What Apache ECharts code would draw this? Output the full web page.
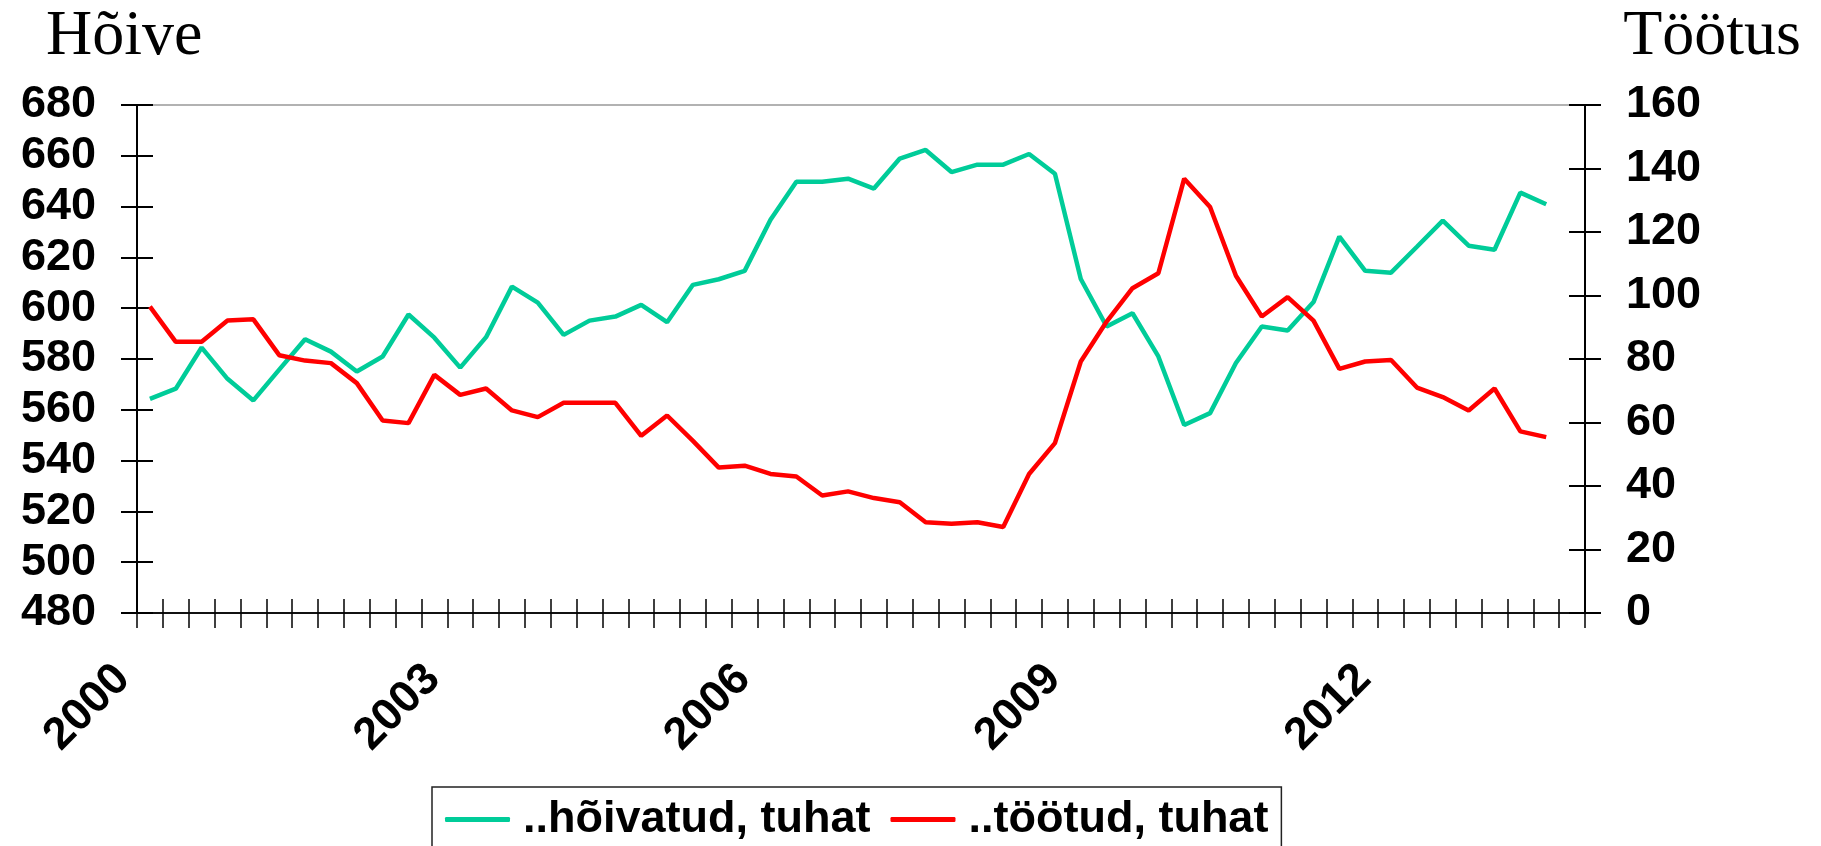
<!DOCTYPE html>
<html>
<head>
<meta charset="utf-8">
<script src="https://cdn.jsdelivr.net/npm/echarts@6/dist/echarts.min.js"></script>
<style>
html,body{margin:0;padding:0;background:#fff;}
#chart{width:1821px;height:846px;}
</style>
</head>
<body>
<div id="chart"></div>
<script>
// Quarterly categories 2000Q1 .. 2013Q4
const categories = [];
for (let y = 2000; y <= 2013; y++) for (let q = 1; q <= 4; q++) categories.push(y + 'Q' + q);

// Tick labels shown at quarter boundaries (every 3 years)
const yearLabels = ['2000', '2003', '2006', '2009', '2012'];

// ..hõivatud, tuhat (left axis)
const employed = [564.3, 568.3, 584.5, 572.2, 563.7, 575.8, 587.8, 582.9, 575.1, 581.0,
  597.5, 588.4, 576.6, 588.6, 608.5, 602.2, 589.5, 595.1, 596.7, 601.3,
  594.5, 609.2, 611.4, 614.7, 634.8, 649.8, 649.8, 651.0, 647.1, 658.9,
  662.3, 653.6, 656.5, 656.5, 660.7, 652.9, 611.5, 592.8, 598.0, 581.0,
  554.0, 558.7, 578.4, 592.8, 591.2, 602.4, 628.2, 614.7, 614.0, 624.2,
  634.5, 624.6, 623.0, 645.5, 640.9, null];

// ..töötud, tuhat (right axis)
const unemployed = [96.5, 85.4, 85.4, 92.1, 92.5, 81.2, 79.5, 78.7, 72.4, 60.6,
  59.8, 75.0, 68.7, 70.7, 63.8, 61.7, 66.2, 66.2, 66.2, 55.8,
  62.2, 54.2, 45.8, 46.4, 43.8, 43.0, 37.0, 38.3, 36.2, 34.9,
  28.6, 28.1, 28.6, 27.1, 43.8, 53.5, 79.2, 91.8, 102.3, 107.0,
  136.8, 127.9, 106.2, 93.4, 99.5, 92.1, 76.9, 79.2, 79.7, 71.0,
  68.0, 63.8, 70.7, 57.2, 55.4, null];

// boundary labels: one per quarter boundary (categories.length + 1)
const boundaryLabels = [];
for (let i = 0; i <= categories.length; i++) {
  boundaryLabels.push(i % 12 === 0 && yearLabels[i / 12] ? yearLabels[i / 12] : '');
}

const FONT = '"Liberation Sans", Arial, sans-serif';
const labelStyle = { fontFamily: FONT, fontWeight: 'bold', fontSize: 45, color: '#000' };

const chart = echarts.init(document.getElementById('chart'), null, { renderer: 'canvas' });
chart.setOption({
  animation: false,
  backgroundColor: '#fff',
  title: [
    { text: 'Hõive', left: 46, top: 5, padding: 0,
      textStyle: { fontFamily: '"Liberation Serif", "Times New Roman", serif', fontWeight: 'normal', fontSize: 64, color: '#000' } },
    { text: 'Töötus', right: 20, top: 5, padding: 0,
      textStyle: { fontFamily: '"Liberation Serif", "Times New Roman", serif', fontWeight: 'normal', fontSize: 64, color: '#000' } }
  ],
  grid: { left: 137, top: 105, width: 1448, height: 508, show: true, borderColor: '#999', borderWidth: 1.5, backgroundColor: 'transparent' },
  legend: {
    left: 432, top: 787,
    padding: [10, 13, 40, 13],
    itemGap: 20, itemWidth: 65, itemHeight: 5,
    icon: 'roundRect',
    borderColor: '#222', borderWidth: 1.5,
    textStyle: Object.assign({}, labelStyle, { padding: [0, 0, 0, 8] }),
    data: ['..hõivatud, tuhat', '..töötud, tuhat']
  },
  xAxis: [
    { type: 'category', data: categories, boundaryGap: true, position: 'bottom',
      axisLine: { show: true, lineStyle: { color: '#111', width: 2 } },
      axisTick: { show: true, inside: true, length: 14, interval: 0, lineStyle: { color: '#000', width: 1.5 } },
      axisLabel: { show: false }, splitLine: { show: false } },
    { type: 'category', data: boundaryLabels, boundaryGap: false, position: 'bottom', gridIndex: 0,
      axisLine: { show: false },
      axisTick: { show: true, inside: false, length: 15, interval: 0, lineStyle: { color: '#000', width: 1.5 } },
      axisLabel: Object.assign({ show: true, interval: 0, rotate: 45, margin: 45, padding: [0, 20, 0, 0] }, labelStyle),
      splitLine: { show: false } }
  ],
  yAxis: [
    { type: 'value', position: 'left', min: 480, max: 680, interval: 20,
      axisLine: { show: true, lineStyle: { color: '#000', width: 2 } },
      axisTick: { show: true, inside: false, length: 16, lineStyle: { color: '#000', width: 2 } },
      axisLabel: Object.assign({ margin: 41 }, labelStyle), splitLine: { show: false } },
    { type: 'value', position: 'left', min: 480, max: 680, interval: 20,
      axisLine: { show: false },
      axisTick: { show: true, inside: true, length: 16, lineStyle: { color: '#000', width: 2 } },
      axisLabel: { show: false }, splitLine: { show: false } },
    { type: 'value', position: 'right', min: 0, max: 160, interval: 20,
      axisLine: { show: true, lineStyle: { color: '#000', width: 2 } },
      axisTick: { show: true, inside: false, length: 16, lineStyle: { color: '#000', width: 2 } },
      axisLabel: Object.assign({ margin: 41 }, labelStyle), splitLine: { show: false } },
    { type: 'value', position: 'right', min: 0, max: 160, interval: 20,
      axisLine: { show: false },
      axisTick: { show: true, inside: true, length: 16, lineStyle: { color: '#000', width: 2 } },
      axisLabel: { show: false }, splitLine: { show: false } }
  ],
  series: [
    { name: '..hõivatud, tuhat', type: 'line', xAxisIndex: 0, yAxisIndex: 0, data: employed,
      symbol: 'none', lineStyle: { color: '#00CC99', width: 4.5 }, itemStyle: { color: '#00CC99' } },
    { name: '..töötud, tuhat', type: 'line', xAxisIndex: 0, yAxisIndex: 2, data: unemployed,
      symbol: 'none', lineStyle: { color: '#FF0000', width: 4.5 }, itemStyle: { color: '#FF0000' } }
  ]
});
</script>
</body>
</html>
